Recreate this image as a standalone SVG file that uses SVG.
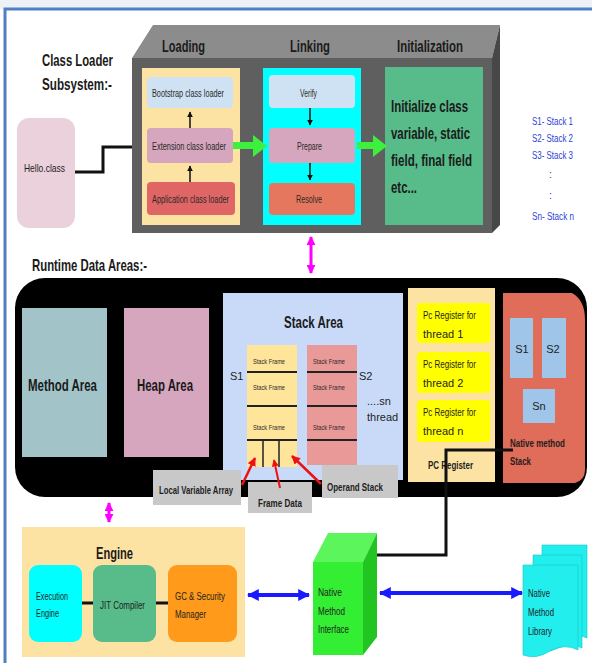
<svg xmlns="http://www.w3.org/2000/svg" width="592" height="663" viewBox="0 0 592 663">
<defs>
<style>
text{font-family:"Liberation Sans Narrow","Liberation Sans",Arial,sans-serif;fill:#222}
.b{font-weight:bold}
.h{font-size:17px;font-weight:bold;fill:#1a1a1a}
.s{font-size:10px;fill:#2a2a2a}
.m{font-size:11px;fill:#1e1e1e}
.t{font-size:8px;fill:#2a2a2a}
.blue{font-size:10.5px;fill:#2b3fd6}
.ln{stroke:#111;stroke-width:3;fill:none}
.sheet{fill:#22eeee;stroke:#18c4c4;stroke-width:0.6}
</style>
<marker id="ah" viewBox="0 0 10 10" refX="9" refY="5" markerWidth="4" markerHeight="4" orient="auto-start-reverse"><path d="M0,0L10,5L0,10z" fill="#111"/></marker>
<marker id="mg" viewBox="0 0 10 10" refX="9" refY="5" markerWidth="3" markerHeight="3" orient="auto-start-reverse"><path d="M0,0L10,5L0,10z" fill="#ff00ff"/></marker>
<marker id="bl" viewBox="0 0 10 10" refX="9" refY="5" markerWidth="3" markerHeight="3" orient="auto-start-reverse"><path d="M0,0L10,5L0,10z" fill="#1a1aff"/></marker>
<marker id="rd" viewBox="0 0 10 10" refX="9" refY="5" markerWidth="3.5" markerHeight="3.5" orient="auto"><path d="M0,0L10,5L0,10z" fill="#ee1111"/></marker>
</defs>
<rect width="592" height="663" fill="#ffffff"/>
<rect width="592" height="9" fill="#eef1f5"/>
<path d="M5,663V9H592" fill="none" stroke="#4f7fc4" stroke-width="3"/>

<text class="h" x="42" y="66" textLength="71" lengthAdjust="spacingAndGlyphs">Class Loader</text>
<text class="h" x="42" y="90" textLength="70" lengthAdjust="spacingAndGlyphs">Subsystem:-</text>
<text class="h" x="32" y="271" textLength="115" lengthAdjust="spacingAndGlyphs">Runtime Data Areas:-</text>

<g id="stack-legend">
<text class="blue" x="532" y="125" textLength="41" lengthAdjust="spacingAndGlyphs">S1- Stack 1</text>
<text class="blue" x="532" y="142" textLength="41" lengthAdjust="spacingAndGlyphs">S2- Stack 2</text>
<text class="blue" x="532" y="159" textLength="41" lengthAdjust="spacingAndGlyphs">S3- Stack 3</text>
<text class="blue" x="549" y="178">:</text>
<text class="blue" x="549" y="199">:</text>
<text class="blue" x="532" y="220" textLength="42" lengthAdjust="spacingAndGlyphs">Sn- Stack n</text>
</g>

<g id="hello-class">
<rect x="17" y="118" width="58" height="110" rx="12" fill="#ead1dc"/>
<text class="m" x="24" y="172" textLength="41" lengthAdjust="spacingAndGlyphs">Hello.class</text>
</g>

<g id="class-loader">
<polygon points="132,58 153,25 500,25 492,58" fill="#8c8c8c"/>
<polygon points="492,58 500,25 500,225 492,233" fill="#474747"/>
<rect x="132" y="58" width="360" height="175" fill="#5f5f5f"/>
<text class="h" x="162" y="52" textLength="43" lengthAdjust="spacingAndGlyphs">Loading</text>
<text class="h" x="290" y="52" textLength="40" lengthAdjust="spacingAndGlyphs">Linking</text>
<text class="h" x="397" y="52" textLength="66" lengthAdjust="spacingAndGlyphs">Initialization</text>
</g>

<g id="loading">
<rect x="142" y="68" width="98" height="157" fill="#fde3a3"/>
<rect x="147" y="77" width="86" height="31" rx="4" fill="#cfe2f3"/>
<text class="s" x="152" y="97" textLength="72" lengthAdjust="spacingAndGlyphs">Bootstrap class loader</text>
<rect x="147" y="128" width="86" height="35" rx="4" fill="#d5a6bd"/>
<text class="s" x="152" y="150" textLength="74" lengthAdjust="spacingAndGlyphs">Extension class loader</text>
<rect x="147" y="182" width="88" height="33" rx="4" fill="#e06666"/>
<text class="s" x="152" y="203" textLength="77" lengthAdjust="spacingAndGlyphs">Application class loader</text>
</g>

<g id="linking">
<rect x="263" y="68" width="98" height="157" fill="#00ffff"/>
<rect x="269" y="75" width="86" height="33" rx="4" fill="#cfe2f3"/>
<text class="s" x="300" y="97" textLength="17" lengthAdjust="spacingAndGlyphs">Verify</text>
<rect x="269" y="128" width="86" height="35" rx="4" fill="#d5a6bd"/>
<text class="s" x="297" y="150" textLength="25" lengthAdjust="spacingAndGlyphs">Prepare</text>
<rect x="269" y="183" width="86" height="32" rx="4" fill="#e6775f"/>
<text class="s" x="296" y="203" textLength="26" lengthAdjust="spacingAndGlyphs">Resolve</text>
</g>

<g id="initialization">
<rect x="385" y="67" width="98" height="158" fill="#57bb8a"/>
<text class="h" x="391" y="112" textLength="77" lengthAdjust="spacingAndGlyphs">Initialize class</text>
<text class="h" x="391" y="139" textLength="79" lengthAdjust="spacingAndGlyphs">variable, static</text>
<text class="h" x="391" y="166" textLength="81" lengthAdjust="spacingAndGlyphs">field, final field</text>
<text class="h" x="391" y="193" textLength="26" lengthAdjust="spacingAndGlyphs">etc...</text>
</g>

<g id="runtime-data-areas">
<rect x="15" y="278" width="572" height="219" rx="30" fill="#000"/>
</g>
<g id="method-area">
<rect x="22" y="308" width="85" height="149" fill="#a2c4c9"/>
<text class="h" x="28" y="391" textLength="69" lengthAdjust="spacingAndGlyphs">Method Area</text>
</g>
<g id="heap-area">
<rect x="124" y="308" width="85" height="149" fill="#d5a6bd"/>
<text class="h" x="137" y="391" textLength="56" lengthAdjust="spacingAndGlyphs">Heap Area</text>
</g>

<g id="stack-area">
<rect x="223" y="293" width="180" height="187" fill="#c9daf8"/>
<text class="h" x="284" y="328" font-size="18" textLength="59" lengthAdjust="spacingAndGlyphs">Stack Area</text>
<text class="m" x="230" y="380" font-size="12">S1</text>
<text class="m" x="359" y="380" font-size="12">S2</text>
<text class="m" x="367" y="405">....sn</text>
<text class="m" x="367" y="421">thread</text>
<rect x="247" y="345" width="50" height="122" fill="#ffe599"/>
<path d="M247,372H297M247,406H297M247,440H297" stroke="#222" stroke-width="2"/>
<path d="M263,440V467M279,440V467" stroke="#222" stroke-width="1.5"/>
<text class="t" x="253" y="364" textLength="32" lengthAdjust="spacingAndGlyphs">Stack Frame</text>
<text class="t" x="253" y="390" textLength="32" lengthAdjust="spacingAndGlyphs">Stack Frame</text>
<text class="t" x="253" y="430" textLength="32" lengthAdjust="spacingAndGlyphs">Stack Frame</text>
<rect x="307" y="345" width="50" height="120" fill="#ea9999"/>
<path d="M307,372H357M307,406H357M307,440H357" stroke="#222" stroke-width="2"/>
<text class="t" x="313" y="364" textLength="32" lengthAdjust="spacingAndGlyphs">Stack Frame</text>
<text class="t" x="313" y="390" textLength="32" lengthAdjust="spacingAndGlyphs">Stack Frame</text>
<text class="t" x="313" y="430" textLength="32" lengthAdjust="spacingAndGlyphs">Stack Frame</text>
</g>

<g id="pc-register">
<rect x="408" y="288" width="87" height="194" fill="#fde3a3"/>
<rect x="417" y="303" width="73" height="40" rx="4" fill="#ffff00"/>
<text class="m" x="423" y="319" textLength="53" lengthAdjust="spacingAndGlyphs">Pc Register for</text>
<text class="m" x="423" y="338">thread 1</text>
<rect x="417" y="352" width="73" height="41" rx="4" fill="#ffff00"/>
<text class="m" x="423" y="368" textLength="53" lengthAdjust="spacingAndGlyphs">Pc Register for</text>
<text class="m" x="423" y="387">thread 2</text>
<rect x="417" y="400" width="73" height="42" rx="4" fill="#ffff00"/>
<text class="m" x="423" y="416" textLength="53" lengthAdjust="spacingAndGlyphs">Pc Register for</text>
<text class="m" x="423" y="435">thread n</text>
<text class="m b" x="428" y="469" font-size="12" textLength="45" lengthAdjust="spacingAndGlyphs">PC Register</text>
</g>

<g id="native-method-stack">
<path d="M503,293H572Q585,300 585,320V470Q585,480 575,483H503Z" fill="#e06c5a"/>
<rect x="510" y="318" width="23" height="60" fill="#9fc5e8"/>
<rect x="542" y="318" width="24" height="60" fill="#9fc5e8"/>
<rect x="523" y="389" width="32" height="34" fill="#9fc5e8"/>
<text class="m" x="522" y="353" text-anchor="middle">S1</text>
<text class="m" x="553" y="353" text-anchor="middle">S2</text>
<text class="m" x="539" y="410" text-anchor="middle">Sn</text>
<text class="m b" x="510" y="447" textLength="55" lengthAdjust="spacingAndGlyphs">Native method</text>
<text class="m b" x="510" y="465" textLength="21" lengthAdjust="spacingAndGlyphs">Stack</text>
</g>

<g id="labels">
<rect x="153" y="470" width="88" height="35" fill="#c8c8c8"/>
<text class="m b" x="159" y="494" textLength="74" lengthAdjust="spacingAndGlyphs">Local Variable Array</text>
<rect x="248" y="482" width="64" height="31" fill="#c8c8c8"/>
<text class="m b" x="258" y="507" textLength="44" lengthAdjust="spacingAndGlyphs">Frame Data</text>
<rect x="322" y="465" width="76" height="33" fill="#c8c8c8"/>
<text class="m b" x="327" y="491" textLength="56" lengthAdjust="spacingAndGlyphs">Operand Stack</text>
</g>

<g id="engine">
<rect x="22" y="527" width="223" height="130" fill="#fde3a3"/>
<text class="h" x="96" y="559" font-size="18" textLength="37" lengthAdjust="spacingAndGlyphs">Engine</text>
<rect x="29" y="565" width="53" height="77" rx="9" fill="#00ffff"/>
<text class="m" x="36" y="600" textLength="32" lengthAdjust="spacingAndGlyphs">Execution</text>
<text class="m" x="36" y="617" textLength="23" lengthAdjust="spacingAndGlyphs">Engine</text>
<rect x="93" y="565" width="63" height="77" rx="9" fill="#57bb8a"/>
<text class="m" x="100" y="609" textLength="45" lengthAdjust="spacingAndGlyphs">JIT Compiler</text>
<rect x="168" y="565" width="69" height="77" rx="9" fill="#ff9a1a"/>
<text class="m" x="175" y="600" textLength="50" lengthAdjust="spacingAndGlyphs">GC &amp; Security</text>
<text class="m" x="175" y="618" textLength="31" lengthAdjust="spacingAndGlyphs">Manager</text>
</g>

<g id="native-method-interface">
<polygon points="313,562 328,533 377,533 363,562" fill="#5cf55c"/>
<polygon points="363,562 377,533 377,637 363,655" fill="#22c422"/>
<rect x="313" y="562" width="50" height="93" fill="#33ee33"/>
<text class="m" x="318" y="596" textLength="24" lengthAdjust="spacingAndGlyphs">Native</text>
<text class="m" x="318" y="615" textLength="27" lengthAdjust="spacingAndGlyphs">Method</text>
<text class="m" x="318" y="633" textLength="31" lengthAdjust="spacingAndGlyphs">Interface</text>
</g>

<g id="native-method-library">
<path class="sheet" d="M542,545H587V638Q575,632 563,638Q552,644 542,640Z"/>
<path class="sheet" d="M533,555H582V648Q570,642 558,648Q546,654 533,650Z"/>
<path class="sheet" d="M523,565H578V650Q565,643 550,651Q536,660 523,655Z"/>
<text class="m" x="528" y="597" textLength="22" lengthAdjust="spacingAndGlyphs">Native</text>
<text class="m" x="528" y="616" textLength="26" lengthAdjust="spacingAndGlyphs">Method</text>
<text class="m" x="528" y="635" textLength="24" lengthAdjust="spacingAndGlyphs">Library</text>
</g>

<g id="connectors">
<path class="ln" d="M75,172H103V147H132"/>
<path d="M190,128V112" stroke="#111" stroke-width="1.5" marker-end="url(#ah)"/>
<path d="M190,182V166" stroke="#111" stroke-width="1.5" marker-end="url(#ah)"/>
<path d="M310,108V125" stroke="#111" stroke-width="1.5" marker-end="url(#ah)"/>
<path d="M310,163V180" stroke="#111" stroke-width="1.5" marker-end="url(#ah)"/>
<polygon points="233,142 253,142 253,135 267,146 253,157 253,149 233,149" fill="#3df03d"/>
<polygon points="357,142 373,142 373,135 387,146 373,157 373,149 357,149" fill="#3df03d"/>
<path d="M311,237V273" stroke="#ff00ff" stroke-width="3" marker-start="url(#mg)" marker-end="url(#mg)"/>
<path d="M109,503V522" stroke="#ff00ff" stroke-width="3" marker-start="url(#mg)" marker-end="url(#mg)"/>
<path d="M242,485L255,458" stroke="#ee1111" stroke-width="2.5" marker-end="url(#rd)"/>
<path d="M280,488L274,460" stroke="#ee1111" stroke-width="2" marker-end="url(#rd)"/>
<path d="M321,484L292,456" stroke="#ee1111" stroke-width="2.5" marker-end="url(#rd)"/>
<path class="ln" d="M513,450H446V555H377"/>
<path d="M82,603H93M156,603H168" stroke="#111" stroke-width="3"/>
<path d="M248,595H309" stroke="#1a1aff" stroke-width="4" marker-start="url(#bl)" marker-end="url(#bl)"/>
<path d="M380,593H522" stroke="#1a1aff" stroke-width="4" marker-start="url(#bl)" marker-end="url(#bl)"/>
</g>
</svg>
